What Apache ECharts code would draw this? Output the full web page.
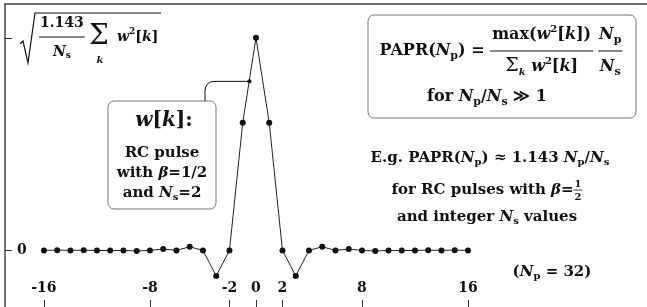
<!DOCTYPE html>
<html>
<head>
<meta charset="utf-8">
<script src="https://cdn.jsdelivr.net/npm/echarts@6/dist/echarts.min.js"></script>
<style>
  html, body { margin: 0; padding: 0; background: #fff; }
  #chart { width: 647px; height: 307px; }
</style>
</head>
<body>
<div id="chart"></div>
<script>
// sample index k and pulse samples w[k] (peak normalised to 1)
const ks = [-16, -15, -14, -13, -12, -11, -10, -9, -8, -7, -6, -5, -4, -3, -2, -1, 0,
            1, 2, 3, 4, 5, 6, 7, 8, 9, 10, 11, 12, 13, 14, 15, 16];
const wk = [0, 0.001, 0, 0.001, 0, -0.001, 0, -0.003, 0, 0.006, 0, 0.017, 0, -0.12, 0, 0.6, 1,
            0.6, 0, -0.12, 0, 0.017, 0, 0.006, 0, -0.003, 0, -0.001, 0, 0.001, 0, 0.001, 0];
const xTicks = [-16, -8, -2, 0, 2, 8, 16];
const yTicks = [0, 1];
const calloutAt = [-0.5, 0.795];

const FAM = '"DejaVu Serif"';
const rm = s => `bold ${s}px ${FAM}`;
const it = s => `italic bold ${s}px ${FAM}`;
const nr = s => `${s}px ${FAM}`;
const INK = '#111';

const chart = echarts.init(document.getElementById('chart'));

chart.setOption({
  animation: false,
  grid: { left: 5, top: 4, right: 0, bottom: -2 },
  xAxis: [{
    type: 'value', min: -18.94, max: 29.51, position: 'bottom',
    axisLine: { show: false, onZero: false },
    splitLine: { show: false },
    axisTick: { inside: true, length: 7, customValues: xTicks, lineStyle: { color: '#333' } },
    axisLabel: { inside: true, margin: 12, customValues: xTicks, color: INK,
      fontFamily: 'DejaVu Serif', fontWeight: 'bold', fontSize: 14 }
  }, {
    type: 'value', min: -18.94, max: 29.51, position: 'top',
    axisLine: { show: true, onZero: false, lineStyle: { color: '#444', width: 1.5 } },
    axisTick: { show: false }, axisLabel: { show: false }, splitLine: { show: false }
  }],
  yAxis: {
    type: 'value', min: -0.2663, max: 1.1589,
    axisLine: { show: true, onZero: false, lineStyle: { color: '#444', width: 1.5 } },
    splitLine: { show: false },
    axisTick: { inside: true, length: 7, customValues: yTicks, lineStyle: { color: '#333' } },
    axisLabel: { inside: true, margin: 12, customValues: [0], color: INK,
      fontFamily: 'DejaVu Serif', fontWeight: 'bold', fontSize: 14 }
  },
  series: [{
    type: 'line',
    data: ks.map((k, i) => [k, wk[i]]),
    symbol: 'circle', symbolSize: 6,
    itemStyle: { color: '#111' },
    lineStyle: { color: '#222', width: 1 },
    z: 3
  }]
});

// --- small layout helpers for the formula texts ---
const mctx = document.createElement('canvas').getContext('2d');
function tw(t, f) { mctx.font = f; return mctx.measureText(t).width; }

function run(tokens) {
  let w = 0;
  const pos = [];
  tokens.forEach(([t, f, dy = 0, dx = 0]) => { w += dx; pos.push([t, f, dy, w]); w += tw(t, f); });
  return {
    w,
    put: (x, y) => pos.map(([t, f, dy, ox]) => ({
      type: 'text', x: x + ox, y: y + dy,
      style: { text: t, font: f, fill: INK, align: 'left', verticalAlign: 'middle' }
    }))
  };
}
function frac(num, den, up, down, pad = 2, lw = 1) {
  const a = run(num), b = run(den);
  const w = Math.max(a.w, b.w) + pad * 2;
  return {
    w,
    put: (x, y) => [
      ...a.put(x + (w - a.w) / 2, y - up),
      ...b.put(x + (w - b.w) / 2, y + down),
      { type: 'line', shape: { x1: x, y1: y, x2: x + w, y2: y }, style: { stroke: INK, lineWidth: lw } }
    ]
  };
}
function gap(n) { return { w: n, put: () => [] }; }
function row(pieces) {
  const w = pieces.reduce((s, p) => s + p.w, 0);
  return {
    w,
    put: (x, y) => {
      let cx = x, out = [];
      pieces.forEach(p => { out = out.concat(p.put(cx, y)); cx += p.w; });
      return out;
    }
  };
}
const centred = (piece, cx, y) => piece.put(cx - piece.w / 2, y);

const g = [];

// y tick label at the peak: sqrt(1.143/Ns sum_k w^2[k])
g.push({ type: 'polyline', shape: { points: [[20, 44], [23, 41], [28, 63], [35, 13], [161, 13]] },
  style: { stroke: INK, lineWidth: 1.2, fill: null } });
g.push(...frac([['1.143', rm(14)]], [['N', it(14)], ['s', rm(9), 4]], 14, 15, 1).put(39, 37));
g.push(...run([['\u03A3', nr(28)]]).put(89, 37));
g.push(...centred(run([['k', it(10)]]), 100, 60));
g.push(...run([['w', it(14)], ['2', rm(9), -5], ['[', rm(14)], ['k', it(14)], [']', rm(14)]]).put(117, 37));

// w[k] box
g.push({ type: 'rect', shape: { x: 108, y: 101, width: 108, height: 108, r: 6 },
  style: { stroke: '#777', fill: '#fff', lineWidth: 1 } });
g.push(...centred(run([['w', it(20)], ['[', rm(20)], ['k', it(20)], [']:', rm(20)]]), 164, 121));
g.push(...centred(run([['RC pulse', rm(15)]]), 162, 153));
g.push(...centred(run([['with ', rm(15)], ['\u03B2', it(15)], ['=1/2', rm(15)]]), 162, 173));
g.push(...centred(run([['and ', rm(15)], ['N', it(15)], ['s', rm(10), 4], ['=2', rm(15)]]), 162, 193));

// callout from the box to the pulse
const [px, py] = chart.convertToPixel({ gridIndex: 0 }, calloutAt);
g.push({ type: 'line', shape: { x1: 205, y1: 101, x2: 205, y2: py + 10 }, style: { stroke: INK, lineWidth: 1 } });
g.push({ type: 'bezierCurve', shape: { x1: 205, y1: py + 10, cpx1: 205, cpy1: py, x2: 215, y2: py },
  style: { stroke: INK, lineWidth: 1, fill: null } });
g.push({ type: 'line', shape: { x1: 215, y1: py, x2: px, y2: py }, style: { stroke: INK, lineWidth: 1 } });
g.push({ type: 'circle', shape: { cx: px, cy: py, r: 2.2 }, style: { fill: INK } });

// PAPR definition box
g.push({ type: 'rect', shape: { x: 368, y: 15, width: 268, height: 103, r: 6 },
  style: { stroke: '#777', fill: '#fff', lineWidth: 1 } });
const papr = row([
  run([['PAPR(', rm(16)], ['N', it(16)], ['p', rm(11), 5], [')', rm(16)], [' = ', rm(16)]]),
  frac([['max(', rm(16)], ['w', it(16)], ['2', rm(10), -6], ['[', rm(16)], ['k', it(16)], ['])', rm(16)]],
       [['\u03A3', nr(19), -1], ['k', it(10), 5], [' w', it(16)], ['2', rm(10), -6], ['[', rm(16)], ['k', it(16)], [']', rm(16)]],
       16, 16, 2),
  gap(5),
  frac([['N', it(16)], ['p', rm(11), 5]], [['N', it(16)], ['s', rm(11), 5]], 16, 16, 1)
]);
g.push(...centred(papr, 501, 51));
g.push(...centred(run([['for ', rm(16)], ['N', it(16)], ['p', rm(11), 5], ['/', rm(16)], ['N', it(16)], ['s', rm(11), 5], [' \u226B 1', rm(16)]]), 487, 97));

// example note
g.push(...centred(run([['E.g. PAPR(', rm(15)], ['N', it(15)], ['p', rm(10), 4], [') \u2248 1.143 ', rm(15)],
  ['N', it(15)], ['p', rm(10), 4], ['/', rm(15)], ['N', it(15)], ['s', rm(10), 4]]), 490, 158));
g.push(...centred(row([
  run([['for RC pulses with ', rm(15)], ['\u03B2', it(15)], ['=', rm(15)]]),
  frac([['1', rm(10)]], [['2', rm(10)]], 6, 7, 1, 0.8)
]), 487, 190));
g.push(...centred(run([['and integer ', rm(15)], ['N', it(15)], ['s', rm(10), 4], [' values', rm(15)]]), 487, 217));

g.push(...centred(run([['(', rm(15)], ['N', it(15)], ['p', rm(10), 4], [' = 32)', rm(15)]]), 552, 272));

chart.setOption({ graphic: { elements: g } });
</script>
</body>
</html>
